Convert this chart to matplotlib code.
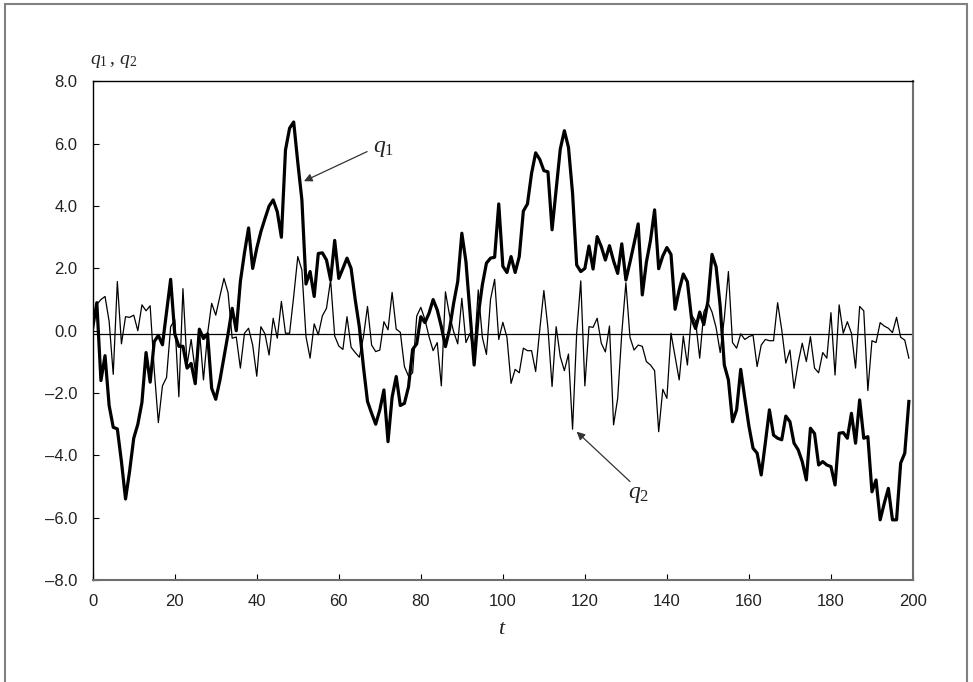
import numpy as np
import matplotlib.pyplot as plt
from matplotlib.patches import Rectangle
from matplotlib.ticker import FuncFormatter, MultipleLocator

plt.rcParams['font.family'] = ['Liberation Sans', 'DejaVu Sans']
plt.rcParams['mathtext.fontset'] = 'custom'
plt.rcParams['mathtext.it'] = 'Liberation Serif:italic'
plt.rcParams['mathtext.rm'] = 'Liberation Serif'

# time index and the two simulated series
t = np.arange(200)

q1 = [0.1, 0.9, -1.6, -0.8, -2.4, -3.1, -3.15, -4.2, -5.4, -4.5,
      -3.45, -3.0, -2.3, -0.7, -1.65, -0.35, -0.15, -0.45, 0.6, 1.65,
      -0.1, -0.5, -0.5, -1.2, -1.05, -1.7, 0.05, -0.25, -0.1, -1.85,
      -2.2, -1.6, -0.85, -0.1, 0.72, 0.0, 1.58, 2.5, 3.3, 2.0,
      2.65, 3.18, 3.6, 4.0, 4.2, 3.82, 3.0, 5.8, 6.5, 6.7,
      5.4, 4.2, 1.5, 1.9, 1.1, 2.48, 2.5, 2.27, 1.63, 2.9,
      1.68, 2.0, 2.33, 2.0, 1.0, 0.13, -1.15, -2.27, -2.65, -3.0,
      -2.54, -1.9, -3.56, -2.13, -1.47, -2.4, -2.33, -1.8, -0.6, -0.42,
      0.45, 0.26, 0.56, 1.0, 0.67, 0.13, -0.51, 0.05, 0.88, 1.58,
      3.13, 2.22, 0.56, -1.1, 0.5, 1.47, 2.17, 2.33, 2.36, 4.07,
      2.07, 1.87, 2.38, 1.87, 2.38, 3.84, 4.07, 5.05, 5.71, 5.5,
      5.14, 5.1, 3.24, 4.52, 5.83, 6.42, 5.89, 4.41, 2.11, 1.9,
      2.0, 2.72, 1.98, 3.02, 2.7, 2.27, 2.73, 2.24, 1.84, 2.79,
      1.63, 2.2, 2.8, 3.43, 1.15, 2.2, 2.9, 3.88, 1.99, 2.4,
      2.67, 2.45, 0.69, 1.31, 1.82, 1.57, 0.4, 0.07, 0.6, 0.2,
      0.95, 2.45, 2.05, 0.78, -1.1, -1.58, -2.92, -2.54, -1.24, -2.17,
      -3.06, -3.77, -3.93, -4.63, -3.6, -2.54, -3.35, -3.45, -3.5, -2.74,
      -2.92, -3.61, -3.82, -4.2, -4.79, -3.13, -3.3, -4.31, -4.2, -4.31,
      -4.36, -4.95, -3.29, -3.27, -3.45, -2.65, -3.61, -2.22, -3.45, -3.4,
      -5.17, -4.79, -6.07, -5.54, -5.06, -6.07, -6.07, -4.25, -3.93, -2.27]

q2 = [0.1, 0.85, 1.0, 1.1, 0.3, -1.4, 1.58, -0.42, 0.45, 0.43,
      0.5, 0.0, 0.83, 0.64, 0.8, -1.26, -2.95, -1.77, -1.5, 0.13,
      0.35, -2.12, 1.35, -1.1, -0.28, -1.3, 0.05, -1.58, -0.1, 0.88,
      0.5, 1.1, 1.68, 1.22, -0.24, -0.2, -1.2, -0.08, 0.08, -0.46,
      -1.46, 0.13, -0.1, -0.78, 0.4, -0.24, 0.94, -0.08, -0.08, 1.1,
      2.38, 1.95, -0.19, -0.88, 0.22, -0.13, 0.48, 0.72, 1.63, -0.17,
      -0.49, -0.6, 0.45, -0.53, -0.7, -0.85, -0.2, 0.78, -0.46, -0.67,
      -0.62, 0.29, 0.03, 1.23, 0.05, -0.05, -1.15, -1.46, -1.35, 0.47,
      0.75, 0.36, -0.19, -0.64, -0.38, -1.77, 1.25, 0.5, -0.03, -0.42,
      1.04, -0.38, -0.08, -0.72, 1.31, -0.21, -0.76, 1.01, 1.65, -0.28,
      0.27, -0.21, -1.69, -1.24, -1.35, -0.56, -0.64, -0.64, -1.31, 0.03,
      1.29, 0.08, -1.79, 0.13, -0.83, -1.28, -0.75, -3.16, -0.08, 1.6,
      -1.77, 0.13, 0.11, 0.4, -0.4, -0.68, 0.15, -3.02, -2.17, -0.08,
      1.54, -0.21, -0.62, -0.46, -0.5, -0.99, -1.1, -1.28, -3.24, -1.88,
      -2.17, -0.08, -0.83, -1.58, -0.17, -1.1, 0.51, 0.3, -0.88, 0.6,
      0.9, 0.6, 0.1, -0.7, 0.4, 1.9, -0.38, -0.56, -0.1, -0.28,
      -0.19, -0.14, -1.15, -0.46, -0.28, -0.32, -0.32, 0.9, 0.03, -1.04,
      -0.62, -1.85, -1.04, -0.4, -0.99, -0.19, -1.2, -1.35, -0.7, -0.88,
      0.58, -1.42, 0.83, -0.08, 0.29, -0.08, -1.2, 0.78, 0.64, -1.92,
      -0.32, -0.38, 0.26, 0.15, 0.08, -0.06, 0.43, -0.21, -0.3, -0.88]

fig = plt.figure(figsize=(9.73, 6.82), dpi=100)
ax = fig.add_axes([0.0953, 0.1496, 0.8430, 0.7309])

ax.plot(t, q2, color='black', lw=0.9)
ax.plot(t, q1, color='black', lw=2.3)
ax.axhline(-0.1, color='black', lw=0.9)

ax.set_xlim(0, 200)
ax.set_ylim(-8, 8)
ax.xaxis.set_major_locator(MultipleLocator(20))
ax.yaxis.set_major_locator(MultipleLocator(2))
ax.yaxis.set_major_formatter(
    FuncFormatter(lambda v, p: f'{v:.1f}'.replace('-', '\u2013')))
ax.tick_params(direction='in', length=4, labelsize=12, labelcolor='#222222')
ax.tick_params(axis='y', pad=11)
ax.tick_params(axis='x', pad=10)

for side in ['left', 'top']:
    ax.spines[side].set_color('black')
    ax.spines[side].set_linewidth(1.0)
for side in ['right', 'bottom']:
    ax.spines[side].set_color('#6e6e6e')
    ax.spines[side].set_linewidth(1.5)

# axis titles
fig.text(90 / 973, 1 - 61 / 682, r'$q_1\,,\,q_2$', fontsize=14,
         ha='left', va='center', color='#222222')
fig.text(0.516, 1 - 628 / 682, r'$t$', fontsize=16,
         ha='center', va='center', color='#222222')

# series labels with pointers
arrow = dict(arrowstyle='-|>', color='#333333', lw=0.9,
             mutation_scale=12, shrinkA=0, shrinkB=0)
ax.annotate('', xy=(51.5, 4.8), xytext=(66.9, 5.75), arrowprops=arrow)
ax.text(68.3, 5.85, r'$q_1$', fontsize=17, ha='left', va='center',
        color='#222222')
ax.annotate('', xy=(118, -3.24), xytext=(131, -4.84), arrowprops=arrow)
ax.text(130.6, -5.25, r'$q_2$', fontsize=17, ha='left', va='center',
        color='#222222')

# outer frame
fig.patches.append(Rectangle((5 / 973, -0.05), 962 / 973, 1.05 - 4 / 682,
                             transform=fig.transFigure, fill=False,
                             edgecolor='#808080', lw=1.5))

fig.savefig('out.png', dpi=100)
